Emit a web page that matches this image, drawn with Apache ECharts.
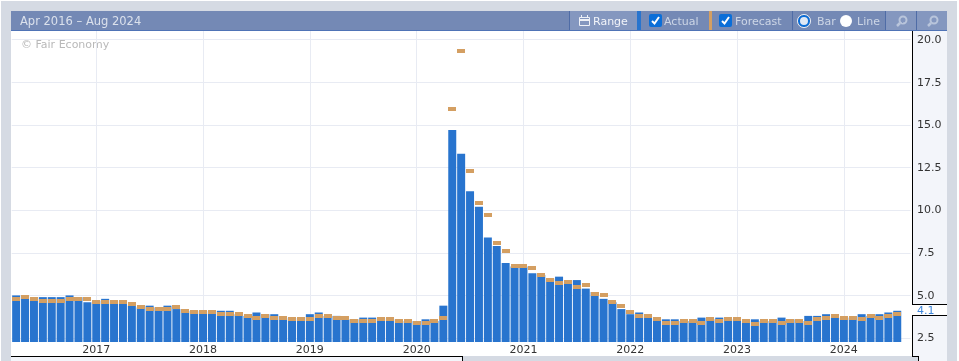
<!DOCTYPE html>
<html><head><meta charset="utf-8">
<style>
html,body{margin:0;padding:0;background:#fff;width:959px;height:361px;overflow:hidden}
.b{position:absolute}
#c{position:absolute;left:0;top:0;width:959px;height:361px}
</style>
<script src="https://cdn.jsdelivr.net/npm/echarts@6/dist/echarts.min.js"></script>
</head><body>
<div class="b" style="left:1px;top:1px;width:956px;height:360px;background:#d5dae3"></div>
<div class="b" style="left:11px;top:31px;width:901px;height:325px;background:#fff"></div>
<div class="b" style="left:912px;top:31px;width:35px;height:330px;background:#f3f5fa"></div>
<div class="b" style="left:912px;top:356px;width:6px;height:5px;background:#d5dae3"></div>
<div class="b" style="left:912px;top:304px;width:35px;height:11px;background:#fff"></div>
<div class="b" style="left:11px;top:357px;width:451px;height:4px;background:#f3f5fa"></div>
<div class="b" style="left:912px;top:31px;width:1px;height:274px;background:#000"></div>
<div class="b" style="left:912px;top:304px;width:35px;height:1px;background:#000"></div>
<div class="b" style="left:912px;top:315px;width:35px;height:1px;background:#000"></div>
<div class="b" style="left:912px;top:315px;width:1px;height:42px;background:#000"></div>
<div class="b" style="left:912px;top:356px;width:7px;height:1px;background:#000"></div>
<div class="b" style="left:918px;top:356px;width:1px;height:5px;background:#000"></div>
<div class="b" style="left:11px;top:356px;width:452px;height:1px;background:#000"></div>
<div class="b" style="left:462px;top:356px;width:1px;height:5px;background:#000"></div>
<div id="c"></div>
<script>
const categories = [
"Apr 2016","May 2016","Jun 2016","Jul 2016","Aug 2016","Sep 2016","Oct 2016","Nov 2016","Dec 2016",
"Jan 2017","Feb 2017","Mar 2017","Apr 2017","May 2017","Jun 2017","Jul 2017","Aug 2017","Sep 2017","Oct 2017","Nov 2017","Dec 2017",
"Jan 2018","Feb 2018","Mar 2018","Apr 2018","May 2018","Jun 2018","Jul 2018","Aug 2018","Sep 2018","Oct 2018","Nov 2018","Dec 2018",
"Jan 2019","Feb 2019","Mar 2019","Apr 2019","May 2019","Jun 2019","Jul 2019","Aug 2019","Sep 2019","Oct 2019","Nov 2019","Dec 2019",
"Jan 2020","Feb 2020","Mar 2020","Apr 2020","May 2020","Jun 2020","Jul 2020","Aug 2020","Sep 2020","Oct 2020","Nov 2020","Dec 2020",
"Jan 2021","Feb 2021","Mar 2021","Apr 2021","May 2021","Jun 2021","Jul 2021","Aug 2021","Sep 2021","Oct 2021","Nov 2021","Dec 2021",
"Jan 2022","Feb 2022","Mar 2022","Apr 2022","May 2022","Jun 2022","Jul 2022","Aug 2022","Sep 2022","Oct 2022","Nov 2022","Dec 2022",
"Jan 2023","Feb 2023","Mar 2023","Apr 2023","May 2023","Jun 2023","Jul 2023","Aug 2023","Sep 2023","Oct 2023","Nov 2023","Dec 2023",
"Jan 2024","Feb 2024","Mar 2024","Apr 2024","May 2024","Jun 2024","Jul 2024","Aug 2024"];
const actual = [
5.0,5.0,4.7,4.9,4.9,4.9,5.0,4.9,4.6,4.7,
4.8,4.7,4.5,4.4,4.3,4.4,4.3,4.4,4.2,4.1,
4.1,4.1,4.1,4.1,4.1,3.9,3.8,4.0,3.9,3.9,
3.7,3.7,3.7,3.9,4.0,3.8,3.8,3.6,3.6,3.7,
3.7,3.7,3.5,3.6,3.5,3.5,3.6,3.5,4.4,14.7,
13.3,11.1,10.2,8.4,7.9,6.9,6.7,6.7,6.3,6.2,
6.0,6.1,5.8,5.9,5.4,5.2,4.8,4.6,4.2,3.9,
4.0,3.8,3.6,3.6,3.6,3.5,3.5,3.7,3.6,3.7,
3.6,3.5,3.4,3.6,3.5,3.5,3.7,3.6,3.5,3.8,
3.8,3.9,3.7,3.7,3.7,3.9,3.8,3.9,4.0,4.1,null];
const forecast = [
4.9,5.0,4.9,4.8,4.8,4.8,4.9,4.9,4.9,4.7,
4.7,4.7,4.7,4.6,4.4,4.3,4.3,4.3,4.4,4.2,
4.1,4.1,4.1,4.0,4.0,4.0,3.9,3.8,3.9,3.8,
3.8,3.7,3.7,3.7,3.9,3.9,3.8,3.8,3.6,3.6,
3.6,3.7,3.7,3.6,3.6,3.5,3.5,3.6,3.8,16.0,
19.4,12.4,10.5,9.8,8.2,7.7,6.8,6.8,6.7,6.3,
6.0,5.8,5.9,5.6,5.7,5.2,5.1,4.7,4.5,4.1,
3.9,3.9,3.7,3.5,3.5,3.6,3.6,3.5,3.7,3.6,
3.7,3.7,3.6,3.4,3.6,3.6,3.5,3.6,3.6,3.5,
3.7,3.8,3.9,3.8,3.8,3.7,3.9,3.8,3.9,4.0,null];
const yTicks = [2.5,5,7.5,10,12.5,15,17.5,20];
const rangeTitle = "Apr 2016 \u2013 Aug 2024";
const latestLabel = "4.1";

const FONT = '"DejaVu Sans", Verdana, sans-serif';
const HEAD='#7489b5', LIGHT='#8497bf', DIV='#4f6ca6', BLUE='#2874ce', TAN='#d49f62', CHK='#0a6ed8', TXT='#cdd6e6';
const rect=(x,y,w,h,fill,r)=>({type:'rect',shape:{x,y,width:w,height:h,r:r||0},style:{fill},silent:true});
const text=(x,y,t,fill,extra)=>({type:'text',x,y,style:Object.assign({text:t,fill,font:'11px '+FONT,textVerticalAlign:'middle'},extra||{}),silent:true});
const check=(x)=>[rect(x,14,13,13,CHK,2),{type:'polyline',shape:{points:[[x+3,21],[x+5.5,23.5],[x+10,17]]},style:{stroke:'#fff',lineWidth:2,fill:null},silent:true}];
const ring=(cx,r,fill,stroke,lw)=>({type:'circle',shape:{cx,cy:21,r},style:{fill,stroke,lineWidth:lw||0},silent:true});
const mag=(cx)=>{
  const c='#b9c5db';
  return [{type:'circle',shape:{cx:cx+1,cy:20,r:3.5},style:{fill:null,stroke:c,lineWidth:2},silent:true},
    {type:'line',shape:{x1:cx-2,y1:23,x2:cx-5,y2:26},style:{stroke:c,lineWidth:2.5},silent:true}];
};
const header=[
  rect(11,11,936,20,HEAD), rect(11,30,936,1,'#4f73b6'),
  rect(569,11,68,19,LIGHT), rect(569,11,1,19,DIV),
  rect(637,11,4,19,BLUE), rect(709,11,3,19,TAN),
  rect(792,11,1,19,DIV), rect(885,11,1,19,DIV),
  rect(886,11,30,19,LIGHT), rect(916,11,1,19,DIV), rect(917,11,30,19,LIGHT),
  text(20,22,rangeTitle,'#dbe1ec',{font:'11.5px '+FONT}),
  {type:'rect',shape:{x:579.5,y:17.5,width:10,height:8},style:{fill:null,stroke:'#eef1f7',lineWidth:1},silent:true},
  rect(579,19,11,2,'#eef1f7'), rect(581,15,1,3,'#eef1f7'), rect(587,15,1,3,'#eef1f7'),
  text(593,22,'Range','#f2f4f9'),
  ...check(649), text(664,22,'Actual',TXT),
  ...check(719), text(735,22,'Forecast',TXT),
  ring(804,5,'#dfe8f5',CHK,2), ring(804,6.6,null,'#ffffff',0.8), text(817,22,'Bar',TXT),
  ring(846,6,'#ffffff'), text(857,22,'Line',TXT),
  ...mag(902), rect(902,18,1,5,'#8497bf'), rect(901,20,3,1,'#8497bf'),
  ...mag(933), rect(932,20,4,1,'#8497bf'),
  text(21,45,'\u00a9 Fair Economy','#b9b9b9'),
  text(917,311,latestLabel,'#3f87dc'),
];

const chart = echarts.init(document.getElementById('c'),null,{renderer:'canvas',width:959,height:361});
chart.setOption({
  animation:false,
  backgroundColor:'transparent',
  textStyle:{fontFamily:FONT},
  grid:{left:11.7,right:48.4,top:31,height:311,containLabel:false},
  graphic:{elements:header},
  xAxis:{type:'category',data:categories,boundaryGap:true,
    axisLine:{show:false},axisTick:{show:false},
    axisLabel:{interval:(i)=>i%12===9,formatter:(v)=>v.split(' ')[1],color:'#333',fontSize:11,fontFamily:FONT,margin:3,hideOverlap:false},
    splitLine:{show:true,alignWithLabel:true,interval:(i)=>i%12===9,lineStyle:{color:'#e8ebf3',width:1}}},
  yAxis:{type:'value',position:'right',min:2.27,max:20.5,
    axisLine:{show:false},
    axisTick:{show:false,customValues:yTicks},
    axisLabel:{customValues:yTicks,formatter:(v)=>v.toFixed(1),color:'#333',fontSize:11,fontFamily:FONT,margin:6.4,verticalAlign:'bottom',padding:[0,0,-6,0],showMinLabel:true,showMaxLabel:true},
    splitLine:{show:true,lineStyle:{color:'#e8ebf3',width:1}}},
  series:[
    {name:'Actual',type:'bar',data:actual,barWidth:8,itemStyle:{color:BLUE},silent:true},
    {name:'Forecast',type:'custom',z:3,silent:true,
      data:forecast.map((v,i)=>[i,v]),
      encode:{x:0,y:1},
      renderItem:(params,api)=>{
        const v=api.value(1);
        if(v==null||isNaN(v)) return null;
        const p=api.coord([api.value(0),v]);
        return {type:'rect',shape:{x:Math.round(p[0]-4),y:Math.round(p[1]-0.3),width:8,height:4},style:{fill:TAN}};
      }}
  ]
});
</script>
</body></html>
